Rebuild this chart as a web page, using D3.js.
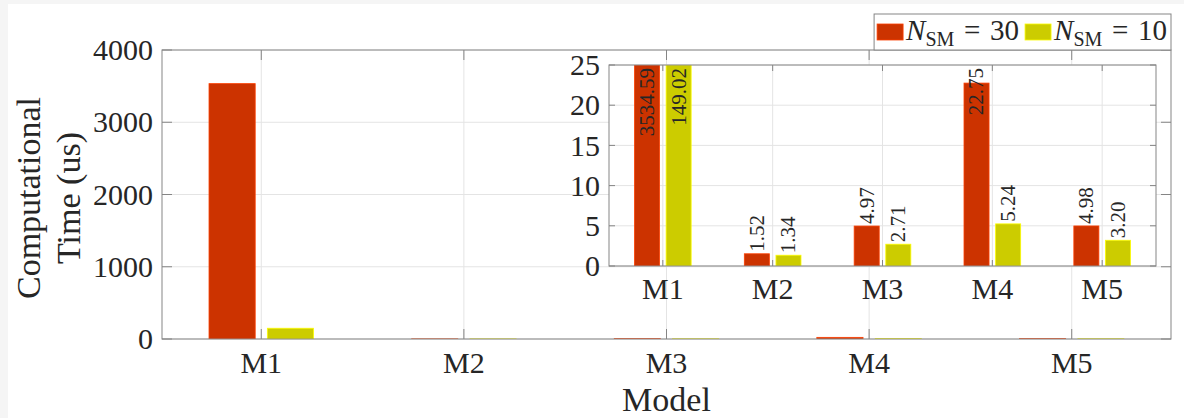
<!DOCTYPE html>
<html>
<head>
<meta charset="utf-8">
<script src="https://cdn.jsdelivr.net/npm/d3@7"></script>
<style>
  html, body { margin: 0; padding: 0; background: #f5f5f5; }
  svg { display: block; }
  text { font-family: "Liberation Serif", "Times New Roman", serif; fill: #262626; }
</style>
</head>
<body>
<script>
// data
const models = ["M1", "M2", "M3", "M4", "M5"];
const nsm30 = [3534.59, 1.52, 4.97, 22.75, 4.98];
const nsm10 = [149.02, 1.34, 2.71, 5.24, 3.20];
const mainTicks = [0, 1000, 2000, 3000, 4000];
const insetTicks = [0, 5, 10, 15, 20, 25];
const seriesNames = ["30", "10"];
const colors = ["#cc3300", "#cccc00"];

const W = 1184, H = 418;
const gridColor = "#e4e4e4", axisColor = "#858585";

const svg = d3.select("body").append("svg")
    .attr("width", W)
    .attr("height", H);

// white figure area, grey strip on the left/top like the screenshot
svg.append("rect").attr("x", 8).attr("y", 4).attr("width", W - 8).attr("height", H - 4).attr("fill", "#fff");

const series = [nsm30, nsm10];
const offset = 0.144, barW = 0.228;

function drawAxes(g, box, yTicks, yMax, tickLen, labelY, opts) {
    const x = d3.scaleLinear().domain([0.51, 5.49]).range([box.left, box.right]);
    const y = d3.scaleLinear().domain([0, yMax]).range([box.bottom, box.top]);
    const cw = x(2) - x(1);

    g.append("rect")
        .attr("x", box.left).attr("y", box.top)
        .attr("width", box.right - box.left).attr("height", box.bottom - box.top)
        .attr("fill", "#fff");

    // grid
    g.selectAll(".hgrid").data(yTicks).enter().append("line")
        .attr("x1", box.left).attr("x2", box.right)
        .attr("y1", d => y(d)).attr("y2", d => y(d))
        .attr("stroke", gridColor);
    g.selectAll(".vgrid").data(models).enter().append("line")
        .attr("x1", (d, i) => x(i + 1)).attr("x2", (d, i) => x(i + 1))
        .attr("y1", box.top).attr("y2", box.bottom)
        .attr("stroke", gridColor);

    const clipId = "clip" + opts.id;
    g.append("clipPath").attr("id", clipId).append("rect")
        .attr("x", box.left).attr("y", box.top)
        .attr("width", box.right - box.left).attr("height", box.bottom - box.top);

    const bars = g.append("g").attr("clip-path", `url(#${clipId})`);
    series.forEach((vals, s) => {
        bars.selectAll(".bar" + s).data(vals).enter().append("rect")
            .attr("x", (d, i) => x(i + 1 + (s === 0 ? -offset : offset) - barW / 2))
            .attr("width", barW * cw)
            .attr("y", d => y(Math.min(d, yMax)))
            .attr("height", d => box.bottom - y(Math.min(d, yMax)))
            .attr("fill", colors[s])
            .attr("stroke", d3.color(colors[s]).brighter(0.6))
            .attr("stroke-width", 0.8);
    });

    // box + inward ticks
    g.append("rect")
        .attr("x", box.left).attr("y", box.top)
        .attr("width", box.right - box.left).attr("height", box.bottom - box.top)
        .attr("fill", "none").attr("stroke", axisColor);

    yTicks.forEach(t => {
        g.append("line").attr("x1", box.left).attr("x2", box.left + tickLen)
            .attr("y1", y(t)).attr("y2", y(t)).attr("stroke", axisColor);
        g.append("line").attr("x1", box.right).attr("x2", box.right - tickLen)
            .attr("y1", y(t)).attr("y2", y(t)).attr("stroke", axisColor);
    });
    models.forEach((m, i) => {
        g.append("line").attr("x1", x(i + 1)).attr("x2", x(i + 1))
            .attr("y1", box.bottom).attr("y2", box.bottom - tickLen).attr("stroke", axisColor);
        g.append("line").attr("x1", x(i + 1)).attr("x2", x(i + 1))
            .attr("y1", box.top).attr("y2", box.top + tickLen).attr("stroke", axisColor);
    });

    // tick labels
    g.selectAll(".ylab").data(yTicks).enter().append("text")
        .attr("x", box.left - 9)
        .attr("y", d => y(d))
        .attr("dy", "0.34em")
        .attr("text-anchor", "end")
        .style("font-size", "30px")
        .text(d => d);
    g.selectAll(".xlab").data(models).enter().append("text")
        .attr("x", (d, i) => x(i + 1))
        .attr("y", labelY)
        .attr("text-anchor", "middle")
        .style("font-size", "30px")
        .text(d => d);

    return { x, y, cw };
}

// main axes
const mainBox = { left: 162, right: 1171, top: 50, bottom: 339 };
drawAxes(svg.append("g"), mainBox, mainTicks, 4000, 10, 373, { id: "main" });

svg.append("text")
    .attr("x", (mainBox.left + mainBox.right) / 2)
    .attr("y", 411)
    .attr("text-anchor", "middle")
    .style("font-size", "34px")
    .text("Model");

const ylab = svg.append("text")
    .attr("transform", "translate(0,198) rotate(-90)")
    .attr("text-anchor", "middle")
    .style("font-size", "34px");
ylab.append("tspan").attr("x", 0).attr("y", 40).text("Computational");
ylab.append("tspan").attr("x", 0).attr("y", 80).text("Time (us)");

// inset axes
const insetBox = { left: 609, right: 1156, top: 65, bottom: 266 };
const inset = svg.append("g");
const sc = drawAxes(inset, insetBox, insetTicks, 25, 6, 299, { id: "inset" });

// value labels, rotated, pushed inside the axes when they would overflow
const fmt = d3.format(".2f");
series.forEach((vals, s) => {
    vals.forEach((v, i) => {
        const cx = sc.x(i + 1 + (s === 0 ? -offset : offset));
        const t = inset.append("text")
            .style("font-size", "21px")
            .attr("dy", "0.33em")
            .text(fmt(v));
        const len = t.node().getComputedTextLength();
        const start = sc.y(Math.min(v, 25)) - 2;
        const yStart = Math.max(start, insetBox.top + 3 + len);
        t.attr("transform", `translate(${cx},${yStart}) rotate(-90)`);
    });
});

// legend
const legend = svg.append("g");
const lgTop = 14, lgBottom = 50, patchW = 26, patchH = 16;
let cursor = 0;
seriesNames.forEach((name, s) => {
    const item = legend.append("g");
    item.append("rect")
        .attr("x", 0).attr("y", 24 - lgTop)
        .attr("width", patchW).attr("height", patchH)
        .attr("fill", colors[s])
        .attr("stroke", d3.color(colors[s]).brighter(0.6))
        .attr("stroke-width", 0.8);
    const txt = item.append("text")
        .attr("x", patchW + 3)
        .attr("y", 39.5 - lgTop)
        .style("font-size", "29px");
    txt.append("tspan").style("font-style", "italic").text("N");
    txt.append("tspan").attr("dy", 6).style("font-size", "20px").text("SM");
    txt.append("tspan").attr("dy", -6).text("\u2004=\u2004" + name);
    item.attr("transform", `translate(${cursor},0)`);
    cursor += patchW + 3 + txt.node().getComputedTextLength() + 6;
});
const lgWidth = cursor + 1;
const lgLeft = mainBox.right - lgWidth;
legend.insert("rect", ":first-child")
    .attr("x", -3).attr("y", 0)
    .attr("width", lgWidth).attr("height", lgBottom - lgTop)
    .attr("fill", "#fff").attr("stroke", axisColor);
legend.attr("transform", `translate(${lgLeft + 3},${lgTop})`);
</script>
</body>
</html>
